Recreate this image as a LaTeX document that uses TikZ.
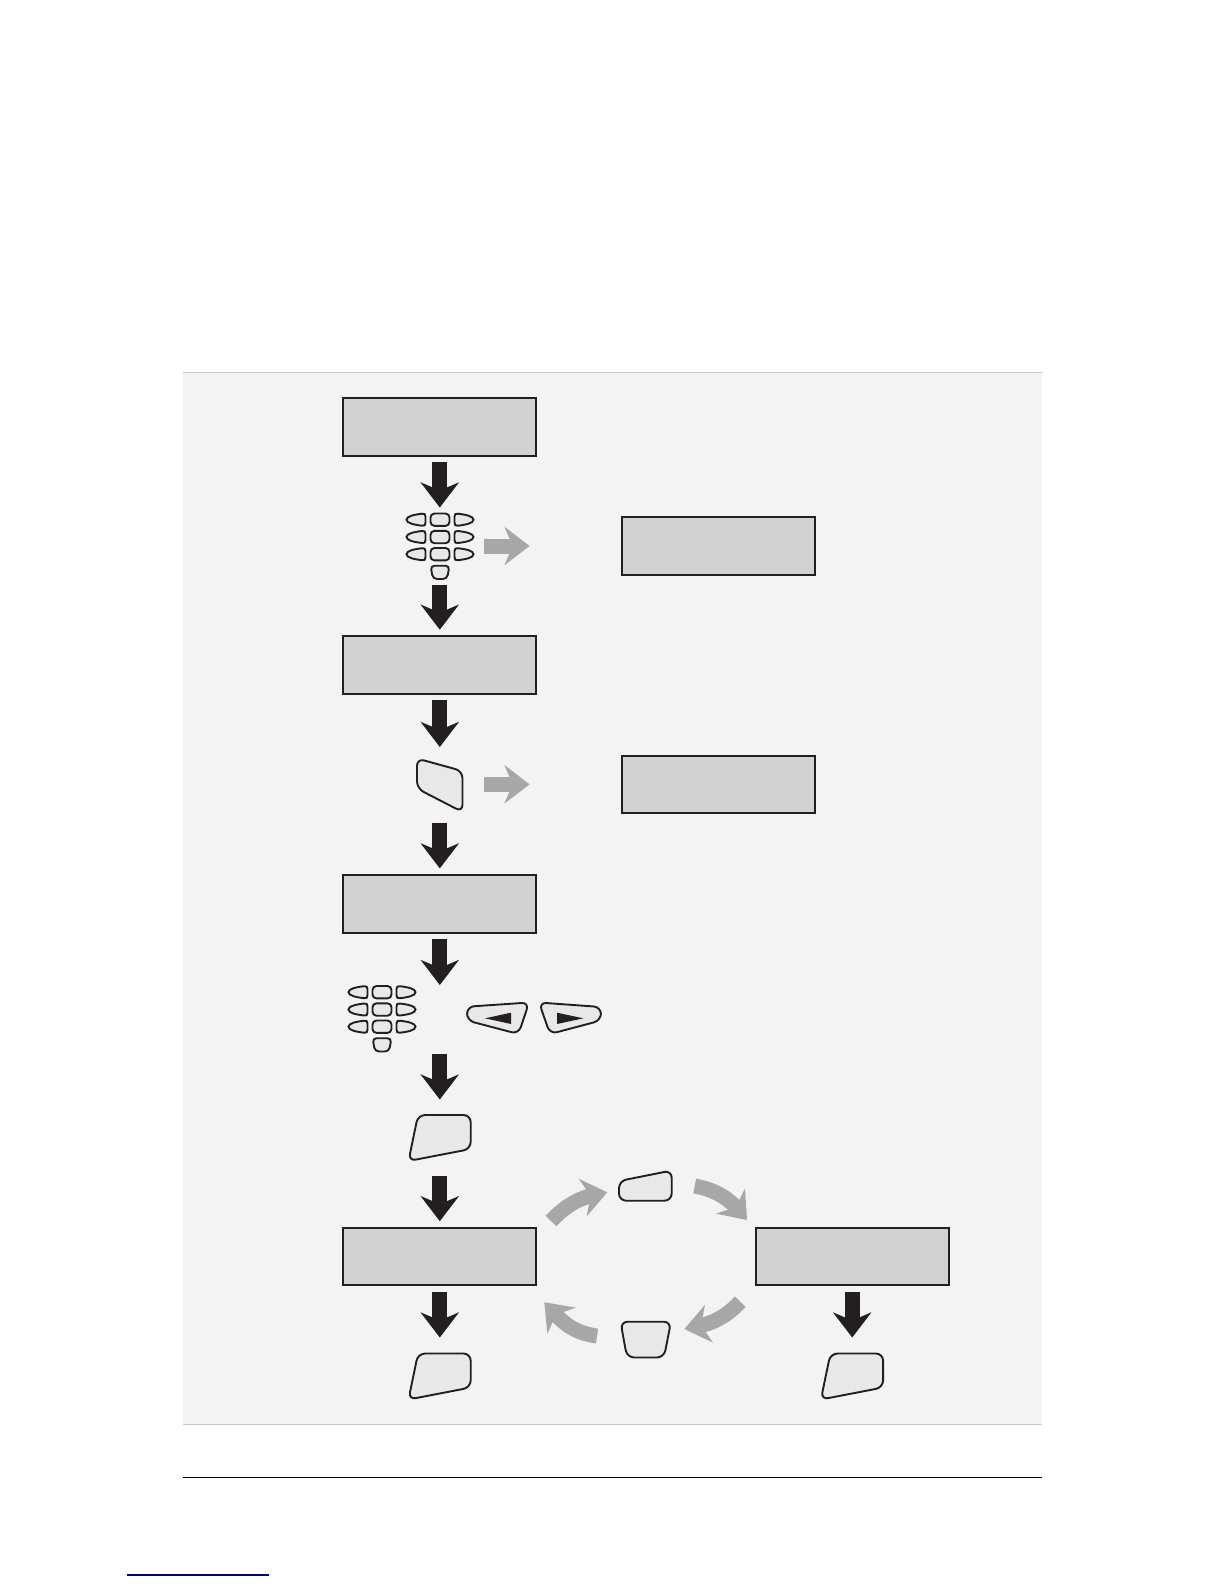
\documentclass[tikz,border=0pt]{standalone}
\usepackage{xcolor}
\usetikzlibrary{arrows.meta}
\definecolor{panelgrey}{HTML}{F3F3F3}
\definecolor{screengrey}{HTML}{D2D2D2}
\definecolor{keygrey}{HTML}{E8E8E8}
\definecolor{inkblack}{HTML}{231F20}
\definecolor{flowgrey}{HTML}{A8A6A6}
\tikzset{
  screenbox/.style={draw=inkblack,fill=screengrey,line width=1pt,inner sep=0pt,minimum width=96.6pt,minimum height=28.8pt},
  keyslot/.style={inner sep=0pt,outer sep=0pt},
  keybody/.style={draw=inkblack,fill=keygrey,line width=0.95pt,rounded corners=3.6pt},
  downflow/.style={draw=inkblack,line width=7.5pt,shorten <=2.75pt,shorten >=2.75pt,-{Stealth[length=12.5pt,width=19pt,inset=4pt]}},
  sideflow/.style={draw=flowgrey,line width=7.5pt,-{Stealth[length=12.5pt,width=19pt,inset=4pt]}},
  pics/keypad/.style={code={
    \foreach \rowy in {-26.3,-9,8.2}{
      \draw[keybody,rounded corners=2pt] (-9.5,\rowy-6.2) rectangle (9.5,\rowy+6.2);
      \draw[keybody,rounded corners=0pt] (-33.5,\rowy) .. controls (-33.5,\rowy-3.5) and (-26,\rowy-5) .. (-18,\rowy-6) .. controls (-15.5,\rowy-6.3) and (-14.5,\rowy-5.5) .. (-14.5,\rowy-3) -- (-14.5,\rowy+3) .. controls (-14.5,\rowy+5.5) and (-15.5,\rowy+6.3) .. (-18,\rowy+6) .. controls (-26,\rowy+5) and (-33.5,\rowy+3.5) .. cycle;
      \draw[keybody,rounded corners=0pt] (33.5,\rowy) .. controls (33.5,\rowy-3.5) and (26,\rowy-5) .. (18,\rowy-6) .. controls (15.5,\rowy-6.3) and (14.5,\rowy-5.5) .. (14.5,\rowy-3) -- (14.5,\rowy+3) .. controls (14.5,\rowy+5.5) and (15.5,\rowy+6.3) .. (18,\rowy+6) .. controls (26,\rowy+5) and (33.5,\rowy+3.5) .. cycle;
    }
    \draw[keybody,rounded corners=2pt] (-9.5,19.7) -- (9.5,19.7) -- (7,33) -- (-7,33) -- cycle;
  }}
}
\begin{document}
\begin{tikzpicture}[x=0.5pt,y=-0.5pt]
\useasboundingbox (0,0) rectangle (1224,1584);
% page furniture
\fill[panelgrey] (183,372) rectangle (1042,1424);
\draw[black!22,line width=0.5pt] (183,372)--(1042,372);
\draw[black!22,line width=0.5pt] (183,1424)--(1042,1424);
\draw[black,line width=0.6pt] (183,1477.6)--(1042,1477.6);
\draw[blue!50!black,line width=0.6pt] (127,1575)--(269,1575);
% screens
\node[screenbox] (boxA) at (439.8,427) {};
\node[screenbox] (boxB) at (718.2,546) {};
\node[screenbox] (boxC) at (439.8,665) {};
\node[screenbox] (boxD) at (718.2,784.3) {};
\node[screenbox] (boxE) at (439.8,903.7) {};
\node[screenbox] (boxF) at (439.8,1256.5) {};
\node[screenbox] (boxG) at (852.2,1256.5) {};
% key slots, the bodies follow
\node[keyslot,minimum width=34pt,minimum height=33pt] (padA) at (439.8,546) {};
\node[keyslot,minimum width=22.5pt,minimum height=32.5pt] (keyB) at (439.8,785) {};
\node[keyslot,minimum width=30.7pt,minimum height=32.5pt] (keyD) at (439.8,1137.5) {};
\node[keyslot,minimum width=26.4pt,minimum height=15pt] (keyT) at (645.3,1186) {};
\node[keyslot,minimum width=25pt,minimum height=18pt] (keyU) at (645.7,1339.5) {};
\node[keyslot,minimum width=30.7pt,minimum height=32.5pt] (keyF) at (439.8,1375.5) {};
\node[keyslot,minimum width=30.7pt,minimum height=32.5pt] (keyG) at (852.2,1375.5) {};
\coordinate (padIn) at (439.8,990.5);
\coordinate (padOut) at (439.8,1048);
\coordinate (ringAa) at (551,1221);
\coordinate (ringAb) at (607.3,1192.3);
\coordinate (ringBa) at (694.7,1186);
\coordinate (ringBb) at (747,1220);
\coordinate (ringCa) at (740.3,1301.7);
\coordinate (ringCb) at (684.3,1329);
\coordinate (ringDa) at (597,1336);
\coordinate (ringDb) at (544.3,1302.3);
\pic at (440,546) {keypad};
\pic at (382,1018.5) {keypad};
\draw[keybody] (417,758.5) -- (462.5,771) -- (462.5,812) -- (417,788.5) -- cycle;
\draw[keybody] (467,1006.7) -- (529,1002.5) -- (518.5,1034) -- (467,1020.5) -- cycle;
\fill[inkblack] (485,1018.3) -- (511,1012.7) -- (511,1024) -- cycle;
\draw[keybody] (539,1002.5) -- (601,1007) -- (601,1020.5) -- (550,1034) -- cycle;
\fill[inkblack] (557,1012.7) -- (557,1024) -- (583.3,1018.3) -- cycle;
\draw[keybody] (418,1115) -- (470.7,1115) -- (470.7,1149) -- (408.5,1161) -- cycle;
\draw[keybody] (619,1181) -- (671.7,1170.5) -- (671.7,1200.7) -- (619,1200.7) -- cycle;
\draw[keybody] (620.5,1321.7) -- (671,1321.7) -- (664,1357.5) -- (627,1357.5) -- cycle;
\draw[keybody] (418,1353.5) -- (470.7,1353.5) -- (470.7,1387.5) -- (408.5,1399.5) -- cycle;
\draw[keybody] (830.4,1353.5) -- (883.1,1353.5) -- (883.1,1387.5) -- (820.9,1399.5) -- cycle;
% main flow
\draw[downflow] (boxA) -- (padA);
\draw[downflow] (padA) -- (boxC);
\draw[downflow] (boxC) -- (keyB);
\draw[downflow] (keyB) -- (boxE);
\draw[downflow] (boxE) -- (padIn);
\draw[downflow] (padOut) -- (keyD);
\draw[downflow] (keyD) -- (boxF);
\draw[downflow] (boxF) -- (keyF);
\draw[downflow] (boxG) -- (keyG);
% side flow
\draw[sideflow,shorten <=5pt,shorten >=45.5pt] (padA) -- (boxB);
\draw[sideflow,shorten <=10.8pt,shorten >=45.5pt] (keyB.east |- boxD) -- (boxD);
% the ring
\draw[sideflow] (ringAa) to[out=47,in=192] (ringAb);
\draw[sideflow] (ringBa) to[out=-10,in=131] (ringBb);
\draw[sideflow] (ringCa) to[out=227,in=12] (ringCb);
\draw[sideflow] (ringDa) to[out=173,in=-47] (ringDb);
\end{tikzpicture}
\end{document}
